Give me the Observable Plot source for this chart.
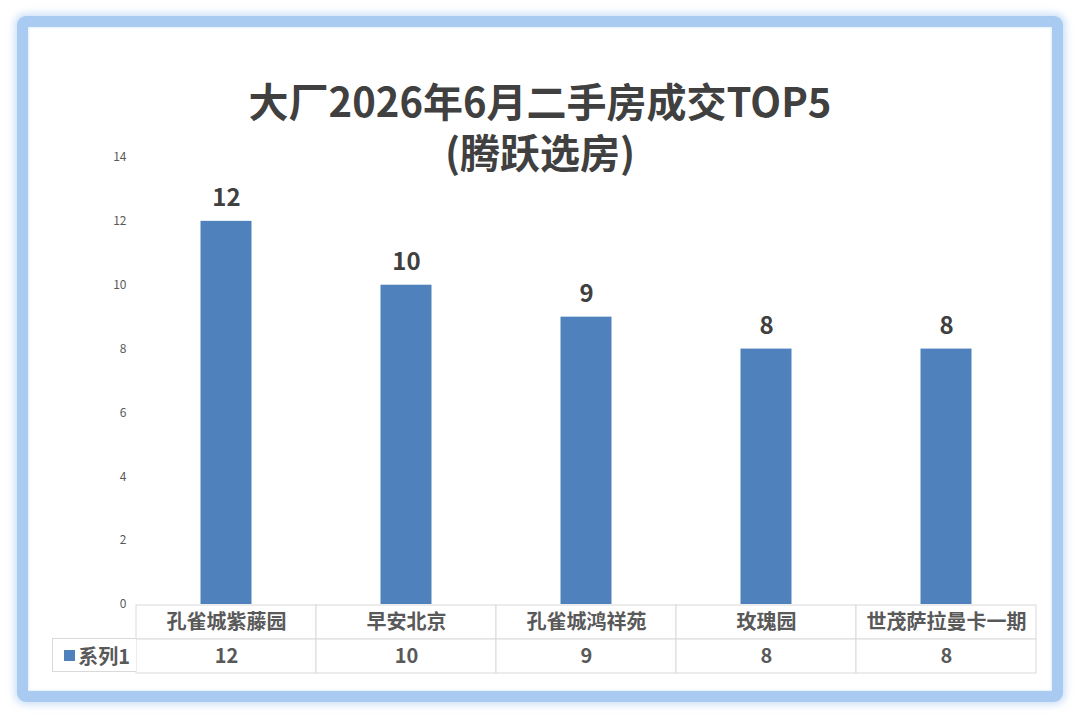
<!DOCTYPE html>
<html>
<head>
<meta charset="utf-8">
<script src="https://cdn.jsdelivr.net/npm/d3@7"></script>
<script src="https://cdn.jsdelivr.net/npm/@observablehq/plot@0.6"></script>
<style>
  html, body { margin: 0; padding: 0; background: #ffffff; }
  #root { position: relative; width: 1080px; height: 719px; overflow: hidden; font-family: "Noto Sans CJK SC", "Noto Sans", sans-serif; }
  #frame { position: absolute; left: 17px; top: 16px; width: 1046px; height: 686px; box-sizing: border-box;
           border: 11px solid #a9cbf2; border-radius: 9px; background: #fff;
           box-shadow: 0 0 7px 3px rgba(169,203,242,0.55), inset 0 0 3px rgba(169,203,242,0.6); }
  #main, #table { position: absolute; left: 0; }
  #main { top: 0; }
  #table { top: 604px; }
  #title { position: absolute; left: 0; top: 75px; width: 1080px; text-align: center; color: #404040; font-weight: 700; font-size: 40px; line-height: 51px; }
  #legendCell { position: absolute; left: 52px; top: 638px; width: 84px; height: 34px; box-sizing: border-box;
                border: 1px solid #d9d9d9; border-right: none; background: #fff;
                display: flex; align-items: center; justify-content: flex-end; padding-right: 6px;
                color: #595959; font-weight: 700; font-size: 20px; }
  #legendCell span.sw { display: inline-block; width: 11px; height: 11px; background: #4f81bd; margin-right: 3px; }
</style>
</head>
<body>
<div id="root">
  <div id="frame"></div>
  <div id="main"></div>
  <div id="table"></div>
  <div id="legendCell"><span class="sw"></span><span id="seriesName"></span></div>
  <div id="title"></div>
</div>
<script>
const titleLine1 = "大厂2026年6月二手房成交TOP5";
const titleLine2 = "(腾跃选房)";
const seriesName = "系列1";
const categories = ["孔雀城紫藤园", "早安北京", "孔雀城鸿祥苑", "玫瑰园", "世茂萨拉曼卡一期"];
const values = [12, 10, 9, 8, 8];
const yTicks = [0, 2, 4, 6, 8, 10, 12, 14];

const titleEl = document.getElementById("title");
titleEl.appendChild(document.createTextNode(titleLine1));
titleEl.appendChild(document.createElement("br"));
titleEl.appendChild(document.createTextNode(titleLine2));
document.getElementById("seriesName").textContent = seriesName;

const data = categories.map((c, i) => ({category: c, value: values[i]}));
const font = "Noto Sans CJK SC, Noto Sans, sans-serif";

const main = Plot.plot({
  width: 1080,
  height: 605,
  marginLeft: 136,
  marginRight: 44,
  marginTop: 157,
  marginBottom: 1,
  style: {background: "transparent", fontFamily: font, overflow: "visible"},
  x: {domain: categories, padding: 0, axis: null},
  y: {domain: [0, 14], ticks: yTicks, tickSize: 0, tickPadding: 10, label: null, tickFormat: d => String(d)},
  marks: [
    Plot.axisY({ticks: yTicks, tickSize: 0, tickPadding: 10, fontSize: 12, fill: "#595959", label: null, tickFormat: d => String(d)}),
    Plot.barY(data, {x: "category", y: "value", fill: "#4f81bd", insetLeft: 64.5, insetRight: 64.5}),
    Plot.text(data, {x: "category", y: "value", text: d => String(d.value), lineAnchor: "bottom", dy: -15,
      fontSize: 24, fontWeight: 700, fill: "#404040"})
  ]
});
document.getElementById("main").appendChild(main);

const rows = ["name", "value"];
const tableData = [];
data.forEach(d => {
  tableData.push({category: d.category, row: "name", label: d.category});
  tableData.push({category: d.category, row: "value", label: String(d.value)});
});

const table = Plot.plot({
  width: 1080,
  height: 69,
  marginLeft: 136,
  marginRight: 44,
  marginTop: 0.5,
  marginBottom: 0.5,
  style: {background: "transparent", fontFamily: font, overflow: "visible"},
  x: {domain: categories, padding: 0, axis: null},
  y: {domain: rows, padding: 0, axis: null},
  marks: [
    Plot.cell(tableData, {x: "category", y: "row", fill: "#ffffff", stroke: "#d9d9d9", strokeWidth: 1, inset: 0}),
    Plot.text(tableData, {x: "category", y: "row", text: "label", fontSize: 20, fontWeight: 700, fill: "#595959"})
  ]
});
document.getElementById("table").appendChild(table);
</script>
</body>
</html>
